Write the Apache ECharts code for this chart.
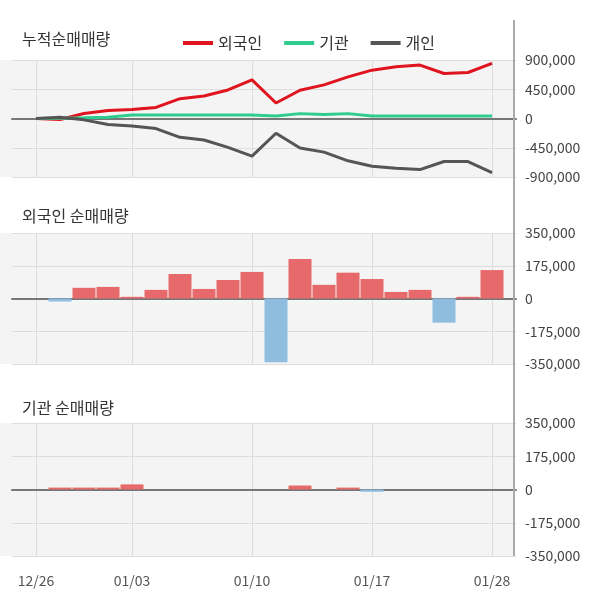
<!DOCTYPE html>
<html>
<head>
<meta charset="utf-8">
<script src="https://cdn.jsdelivr.net/npm/echarts@6/dist/echarts.min.js"></script>
<style>
body{margin:0;padding:0;background:#fff;}
#chart{width:600px;height:604px;}
</style>
</head>
<body>
<div id="chart"></div>
<script>
// 거래일 (앞뒤 빈 칸은 여백용)
var dates = ['', '12/26','12/27','12/30','01/02','01/03','01/06','01/07','01/08','01/09','01/10',
             '01/13','01/14','01/15','01/16','01/17','01/20','01/21','01/22','01/23','01/28', ''];
var shownDates = ['12/26','01/03','01/10','01/17','01/28'];

// 누적순매매량
var cumForeign = [null, 0,-15000,78000,124000,140000,171000,305000,346000,439000,594000,
                  238000,434000,517000,641000,744000,796000,822000,692000,708000,848000, null];
var cumInst = [null, 0,5000,10000,20000,55000,55000,55000,55000,55000,55000,
               40000,75000,60000,75000,40000,40000,40000,40000,40000,40000, null];
var cumPerson = [null, 0,21000,-21000,-93000,-114000,-155000,-290000,-331000,-445000,-579000,
                 -227000,-455000,-517000,-651000,-734000,-765000,-786000,-662000,-662000,-832000, null];

// 일별 순매매량
var dayForeign = [null, null,-16000,57000,62000,9000,46000,131000,51000,99000,142000,
                  -340000,211000,73000,138000,104000,35000,46000,-129000,9000,152000, null];
var dayInst = [null, null,10000,10000,10000,27000,0,0,0,0,0,
               0,21000,0,10000,-12000,0,0,0,0,0, null];

var chart = echarts.init(document.getElementById('chart'));

function fmt(v){ return v.toLocaleString('en-US'); }
function showDate(i, v){ return shownDates.indexOf(v) >= 0; }
function barColor(p){ return p.value >= 0 ? '#e8696b' : '#8fbde0'; }

var grids = [
    {left: 12, right: 84, top: 60, height: 117},
    {left: 12, right: 84, top: 233, height: 131},
    {left: 12, right: 84, top: 423, height: 133}
];

function xAxisFor(idx, showLabel){
    return {
        type: 'category', gridIndex: idx, data: dates, boundaryGap: false,
        axisTick: {show: false},
        axisLine: {onZero: true, lineStyle: {color: '#777', width: 2}},
        axisLabel: {show: showLabel, interval: showDate, color: '#555', fontSize: 14, margin: 18},
        splitLine: {show: true, interval: showDate, lineStyle: {color: '#ddd'}}
    };
}
function yAxisFor(idx, lim, step){
    return {
        type: 'value', gridIndex: idx, position: 'right',
        min: -lim, max: lim, interval: step,
        axisLine: {show: false}, axisTick: {show: false},
        axisLabel: {formatter: fmt, color: '#444', fontSize: 14, margin: 9},
        splitLine: {lineStyle: {color: '#ddd'}}
    };
}

var bgRects = grids.map(function(g){
    return {type: 'rect', z: -10, shape: {x: 0, y: g.top, width: 514, height: g.height},
            style: {fill: '#f4f4f4'}};
});

var option = {
    animation: false,
    textStyle: {fontFamily: 'Noto Sans CJK KR'},
    graphic: bgRects.concat([
        {type: 'line', z: 10, shape: {x1: 514, y1: 20, x2: 514, y2: 556}, style: {stroke: '#aaa', lineWidth: 2}},
        {type: 'text', left: 22, top: 31, style: {text: '누적순매매량', fontSize: 16, fill: '#333', fontFamily: 'Noto Sans CJK KR'}},
        {type: 'text', left: 22, top: 208, style: {text: '외국인 순매매량', fontSize: 16, fill: '#333', fontFamily: 'Noto Sans CJK KR'}},
        {type: 'text', left: 22, top: 400, style: {text: '기관 순매매량', fontSize: 16, fill: '#333', fontFamily: 'Noto Sans CJK KR'}}
    ]),
    legend: {
        left: 178, top: 30, itemWidth: 30, itemHeight: 4, itemGap: 22,
        icon: 'rect',
        textStyle: {fontSize: 16, color: '#333'},
        data: ['외국인', '기관', '개인']
    },
    grid: grids,
    xAxis: [xAxisFor(0, false), xAxisFor(1, false), xAxisFor(2, true)],
    yAxis: [yAxisFor(0, 900000, 450000), yAxisFor(1, 350000, 175000), yAxisFor(2, 350000, 175000)],
    series: [
        {name: '외국인', type: 'line', data: cumForeign, symbol: 'none', color: '#e0141e',
         lineStyle: {width: 3}, xAxisIndex: 0, yAxisIndex: 0},
        {name: '기관', type: 'line', data: cumInst, symbol: 'none', color: '#2ecc8e',
         lineStyle: {width: 3}, xAxisIndex: 0, yAxisIndex: 0},
        {name: '개인', type: 'line', data: cumPerson, symbol: 'none', color: '#555',
         lineStyle: {width: 3}, xAxisIndex: 0, yAxisIndex: 0},
        {type: 'bar', data: dayForeign, barWidth: 23, xAxisIndex: 1, yAxisIndex: 1,
         itemStyle: {color: barColor}},
        {type: 'bar', data: dayInst, barWidth: 23, xAxisIndex: 2, yAxisIndex: 2,
         itemStyle: {color: barColor}}
    ]
};
chart.setOption(option);
</script>
</body>
</html>
